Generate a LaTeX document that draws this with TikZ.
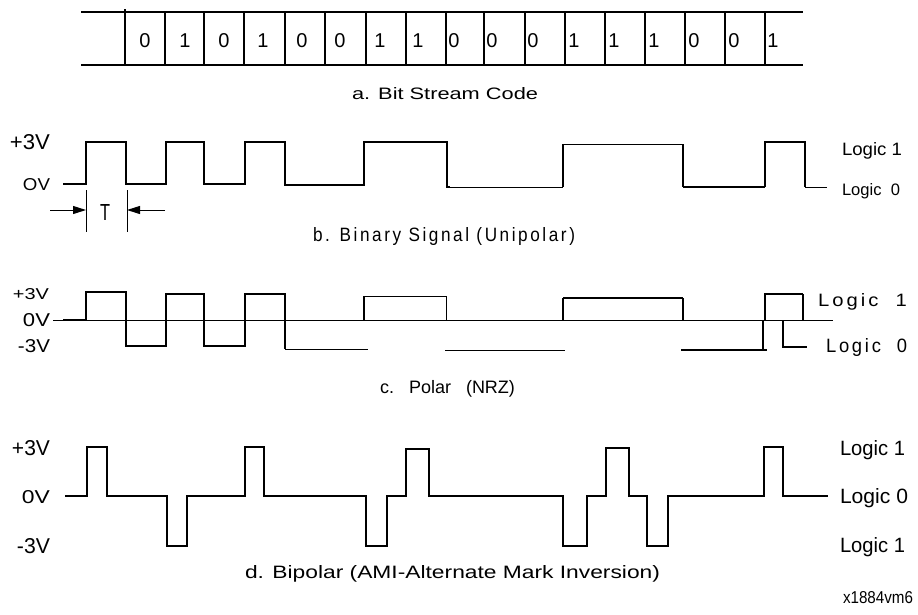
\documentclass[tikz,border=0pt]{standalone}
\usepackage{fontspec}
\setmainfont{Liberation Sans}
\newfontfamily\spacedfont[LetterSpace=15]{Liberation Sans}
\usetikzlibrary{arrows.meta}
\newcommand\fitt[3]{\resizebox{#1pt}{#2pt}{#3}}
\begin{document}
\begin{tikzpicture}[x=1pt,y=-1pt,
  lbl/.style={inner sep=0pt, outer sep=0pt},
  lw/.style={lbl, anchor=base west},
  le/.style={lbl, anchor=base east},
  dig/.style={lbl, anchor=base, font=\fontsize{20}{20}\selectfont},
  gridline/.style={line width=1.2pt},
  wthick/.style={line width=2.4pt, line join=miter},
  wmid/.style={line width=1.6pt, line join=miter},
  wthin/.style={line width=1pt},
  tick/.style={line width=0.8pt},
  tarrow/.style={line width=1pt, -{Triangle[length=13pt,width=8pt]}},
]
\useasboundingbox (0,0) rectangle (918,614);

% ---------- a. bit stream table ----------
\draw[gridline] (81,12) -- (803,12);
\draw[gridline] (81,65) -- (803,65);
\draw[gridline] (125,9) -- (125,65);
\foreach \x in {165,204,244,285,325,366,406,446,484,525,565,605,645,685,725,765}
  \draw[gridline] (\x,12) -- (\x,65);
\foreach \x/\d [count=\i] in {145/0,185/1,224/0,263/1,302/0,340/0,380/1,418/1,454/0,492/0,533/0,574/1,614/1,654/1,694/0,734/0,773/1}
  \node[dig] (bit\i) at (\x,47) {\d};
\node[lw] (capa) at (352,99) {\fitt{186}{12}{a. Bit Stream Code}};

% ---------- b. binary signal ----------
\node[le] (bp3) at (50,149) {\fitt{40}{15}{+3V}};
\node[le] (b0) at (50,190) {\fitt{27}{12}{OV}};
\draw[wthick] (63,184) -- (86,184) -- (86,142) -- (126,142) -- (126,184) -- (166,184)
  -- (166,142) -- (204,142) -- (204,184) -- (245,184) -- (245,142) -- (285,142)
  -- (285,185) -- (364,185) -- (364,142) -- (447,142) -- (447,187) -- (450,187);
\draw[wthin] (447,187) -- (563,187);
\draw[wmid] (563,187) -- (563,144);
\draw[wthin] (563,144) -- (683,144);
\draw[wmid] (683,144) -- (683,187);
\draw[line width=1.2pt] (683,187) -- (765,187);
\draw[wmid] (765,187) -- (765,142) -- (805,142) -- (805,187);
\draw[wthin] (805,187) -- (827,187);
\node[lw] (bl1) at (842,155) {\fitt{60}{13}{Logic 1}};
\node[lw] (bl0) at (842,195) {\fitt{58}{12}{Logic\ \ 0}};
% T marker
\coordinate (tl) at (86,190); \coordinate (tlb) at (86,232);
\coordinate (tr) at (127,190); \coordinate (trb) at (127,232);
\draw[tick] (tl) -- (tlb);
\draw[tick] (tr) -- (trb);
\coordinate (al) at (50,210); \coordinate (ar) at (165,210);
\draw[tarrow] (al) -- (86,210);
\draw[tarrow] (ar) -- (127,210);
\node[lbl, anchor=base] (tlab) at (105,220) {\fitt{10}{16}{T}};
\node[lw] (capb) at (313,241) {\fitt{262}{14}{\spacedfont b. Binary Signal (Unipolar)}};

% ---------- c. polar NRZ ----------
\node[le] (cp3) at (49,299) {\fitt{36}{11}{+3V}};
\node[le] (c0) at (50,326) {\fitt{27}{13}{0V}};
\node[le] (cm3) at (50,352) {\fitt{32}{13}{-3V}};
\draw[wthin] (53,320) -- (833,320);
\draw[wthick] (63,320) -- (86,320) -- (86,292) -- (126,292) -- (126,346) -- (166,346)
  -- (166,294) -- (204,294) -- (204,346) -- (245,346) -- (245,294) -- (285,294) -- (285,349);
\draw[wthin] (285,349) -- (368,349);
\draw[wmid] (364,320) -- (364,296);
\draw[wthin] (364,296) -- (446,296) -- (446,320);
\draw[wthin] (445,350) -- (565,350);
\draw[wmid] (563,320) -- (563,298);
\draw[line width=1.4pt] (563,298) -- (683,298);
\draw[line width=1.2pt] (683,298) -- (683,321);
\draw[line width=1.2pt] (681,350) -- (767,350);
\draw[line width=1.2pt] (763,350) -- (763,320);
\draw[wthick] (765,320) -- (765,294) -- (803,294);
\draw[line width=1.3pt] (803,294) -- (803,320);
\draw[wthick] (783,320) -- (783,347) -- (807,347);
\node[lw] (cl1) at (818,306) {\fitt{89}{13}{\spacedfont Logic\ \ 1}};
\node[lw] (cl0) at (826,352) {\fitt{81}{14}{\spacedfont Logic\ \ 0}};
\node[lw] (capc) at (380,393) {\fontsize{18}{18}\selectfont c.\hspace{15pt}Polar\hspace{15pt}(NRZ)};

% ---------- d. bipolar AMI ----------
\node[le] (dp3) at (50,455) {\fitt{38}{15}{+3V}};
\node[le] (d0) at (50,503) {\fitt{28}{13}{0V}};
\node[le] (dm3) at (50,553) {\fitt{33}{15}{-3V}};
\draw[wthick] (65,496) -- (87,496) -- (87,447) -- (107,447) -- (107,496) -- (167,496)
  -- (167,546) -- (187,546) -- (187,496) -- (245,496) -- (245,447) -- (264,447)
  -- (264,496) -- (366,496) -- (366,546) -- (387,546) -- (387,496) -- (406,496)
  -- (406,449) -- (429,449) -- (429,496) -- (563,496) -- (563,546) -- (587,546)
  -- (587,496) -- (606,496) -- (606,448) -- (629,448) -- (629,496) -- (647,496)
  -- (647,546) -- (668,546) -- (668,496) -- (764,496) -- (764,447) -- (783,447)
  -- (783,496) -- (828,496);
\node[lw] (dl1) at (840,455) {\fitt{65}{15}{Logic 1}};
\node[lw] (dl0) at (840,503) {\fitt{68}{15}{Logic 0}};
\node[lw] (dl1b) at (840,552) {\fitt{65}{15}{Logic 1}};
\node[lw] (capd) at (245,578) {\fitt{415}{13}{d. Bipolar (AMI-Alternate Mark Inversion)}};
\node[lw] (ref) at (843,603) {\fitt{70}{12}{x1884vm6}};
\end{tikzpicture}
\end{document}
